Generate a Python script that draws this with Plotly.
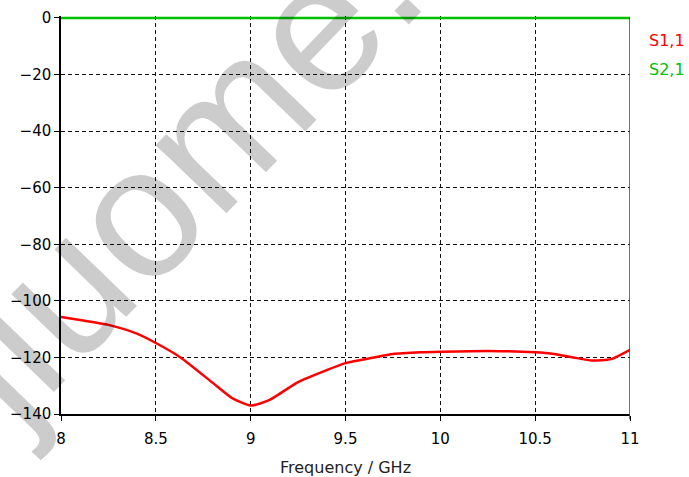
import plotly.graph_objects as go

# S-parameter magnitudes (dB) versus frequency (GHz)
freq_s11 = [8.0, 8.1, 8.25, 8.4, 8.5, 8.63, 8.8, 8.9, 9.0, 9.1, 9.25, 9.4, 9.5, 9.65, 9.75,
            9.9, 10.0, 10.25, 10.5, 10.6, 10.7, 10.8, 10.9, 11.0]
s11_db = [-105.7, -106.8, -108.5, -111.6, -114.9, -120.0, -129.0, -134.3, -137.0, -135.0,
          -128.7, -124.5, -122.0, -120.0, -118.8, -118.2, -118.0, -117.7, -118.2, -118.8,
          -120.0, -121.1, -120.6, -117.3]
freq_s21 = [8.0, 11.0]
s21_db = [0.0, 0.0]

x_ticks = [8, 8.5, 9, 9.5, 10, 10.5, 11]
x_tick_text = ["8", "8.5", "9", "9.5", "10", "10.5", "11"]
y_ticks = [0, -20, -40, -60, -80, -100, -120, -140]

RED = "#ff0000"
GREEN = "#00c000"
FONT = "DejaVu Sans"

fig = go.Figure()
fig.add_trace(go.Scatter(x=freq_s11, y=s11_db, mode="lines", name="S1,1",
                         line=dict(color=RED, width=2.5, shape="spline", smoothing=0.6)))
fig.add_trace(go.Scatter(x=freq_s21, y=s21_db, mode="lines", name="S2,1",
                         line=dict(color=GREEN, width=2.5)))

axis_common = dict(showline=True, linecolor="black", linewidth=1.5, mirror=False,
                   showgrid=True, gridcolor="#111", gridwidth=1, griddash="4px,3px",
                   ticks="outside", ticklen=5, tickcolor="black", zeroline=False,
                   automargin=False,
                   tickfont=dict(family=FONT, size=15, color="black"))

fig.update_layout(
    width=689, height=477,
    margin=dict(l=61, r=59, t=16, b=63),
    paper_bgcolor="white", plot_bgcolor="white",
    showlegend=False,
    xaxis=dict(range=[8, 11], tickvals=x_ticks, ticktext=x_tick_text,
               ticklabelstandoff=5, **axis_common),
    # a little headroom above 0 dB so the 0 dB trace is not clipped
    yaxis=dict(range=[-140, 0.7], tickvals=y_ticks, **axis_common),
)

# x-axis title
fig.add_annotation(xref="paper", yref="paper", x=0.5, y=-0.135, xanchor="center", yanchor="middle",
                   text="Frequency / GHz", showarrow=False,
                   font=dict(family=FONT, size=16, color="#222"))

# right-hand frame edge
fig.add_shape(type="line", xref="x", yref="paper", x0=11, x1=11, y0=-0.013, y1=0.996,
              line=dict(color="#444", width=1.5))

# series labels at the right
fig.add_annotation(xref="paper", yref="paper", x=1.03, y=0.938, xanchor="left", yanchor="middle",
                   text="S1,1", showarrow=False, font=dict(family=FONT, size=16, color=RED))
fig.add_annotation(xref="paper", yref="paper", x=1.03, y=0.865, xanchor="left", yanchor="middle",
                   text="S2,1", showarrow=False, font=dict(family=FONT, size=16, color=GREEN))

# watermark
fig.add_annotation(xref="paper", yref="paper", x=(176 - 61) / 569, y=(414 - 172) / 398,
                   xanchor="center", yanchor="middle",
                   text="jiuome.", showarrow=False, textangle=-46,
                   font=dict(family="Liberation Sans", size=186, color="rgba(0,0,0,0.2)"))

fig.write_html("out.html")
